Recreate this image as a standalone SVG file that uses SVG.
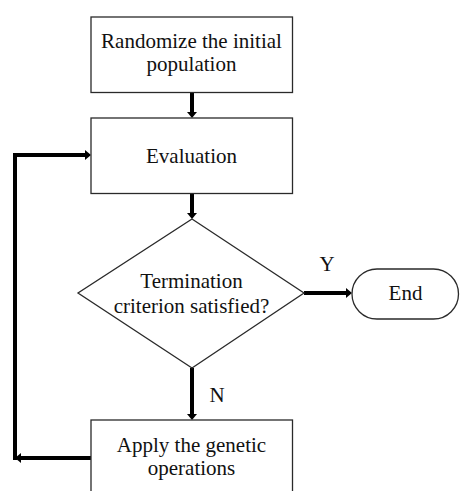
<svg xmlns="http://www.w3.org/2000/svg" width="460" height="491" viewBox="0 0 460 491">
  <style>
    .box { fill: #ffffff; stroke: #2a2a2a; stroke-width: 1.3; }
    .lbl { font-family: "Liberation Serif", "Times New Roman", serif; font-size: 21px; fill: #111111; text-anchor: middle; }
    .conn { fill: none; stroke: #000000; stroke-width: 4; }
  </style>
  <defs>
    <marker id="ah" markerUnits="userSpaceOnUse" viewBox="0 0 6 10" refX="0" refY="5" markerWidth="6" markerHeight="10" orient="auto">
      <path d="M0,0 L6,5 L0,10 Z" fill="#000000"/>
    </marker>
  </defs>
  <rect width="460" height="491" fill="#ffffff"/>

  <g id="connectors">
    <path class="conn" d="M192,93 V112" marker-end="url(#ah)"/>
    <path class="conn" d="M192,194 V213" marker-end="url(#ah)"/>
    <path class="conn" d="M304,293 H346" marker-end="url(#ah)"/>
    <path class="conn" d="M192,368 V414" marker-end="url(#ah)"/>
    <path class="conn" d="M91,458 H21" marker-end="url(#ah)"/>
    <path class="conn" d="M15,460 V153"/>
    <path class="conn" d="M13,155 H85" marker-end="url(#ah)"/>
    <text class="lbl" x="327" y="271">Y</text>
    <text class="lbl" x="217" y="402">N</text>
  </g>

  <g id="init">
    <rect class="box" x="91" y="17" width="201.5" height="75.5"/>
    <text class="lbl" x="191.5" y="48">Randomize the initial</text>
    <text class="lbl" x="191.5" y="71">population</text>
  </g>

  <g id="evaluation">
    <rect class="box" x="91" y="118" width="201.5" height="75.5"/>
    <text class="lbl" x="191.5" y="162.5">Evaluation</text>
  </g>

  <g id="termination">
    <polygon class="box" points="192,219 304,293 192,368 78,293"/>
    <text class="lbl" x="191.5" y="288">Termination</text>
    <text class="lbl" x="191.5" y="313">criterion satisfied?</text>
  </g>

  <g id="end">
    <rect class="box" x="352" y="269" width="106.5" height="50" rx="25" ry="25"/>
    <text class="lbl" x="405.5" y="300">End</text>
  </g>

  <g id="genetic">
    <rect class="box" x="91" y="420" width="201.5" height="80"/>
    <text class="lbl" x="191.5" y="452">Apply the genetic</text>
    <text class="lbl" x="191.5" y="475">operations</text>
  </g>
</svg>
